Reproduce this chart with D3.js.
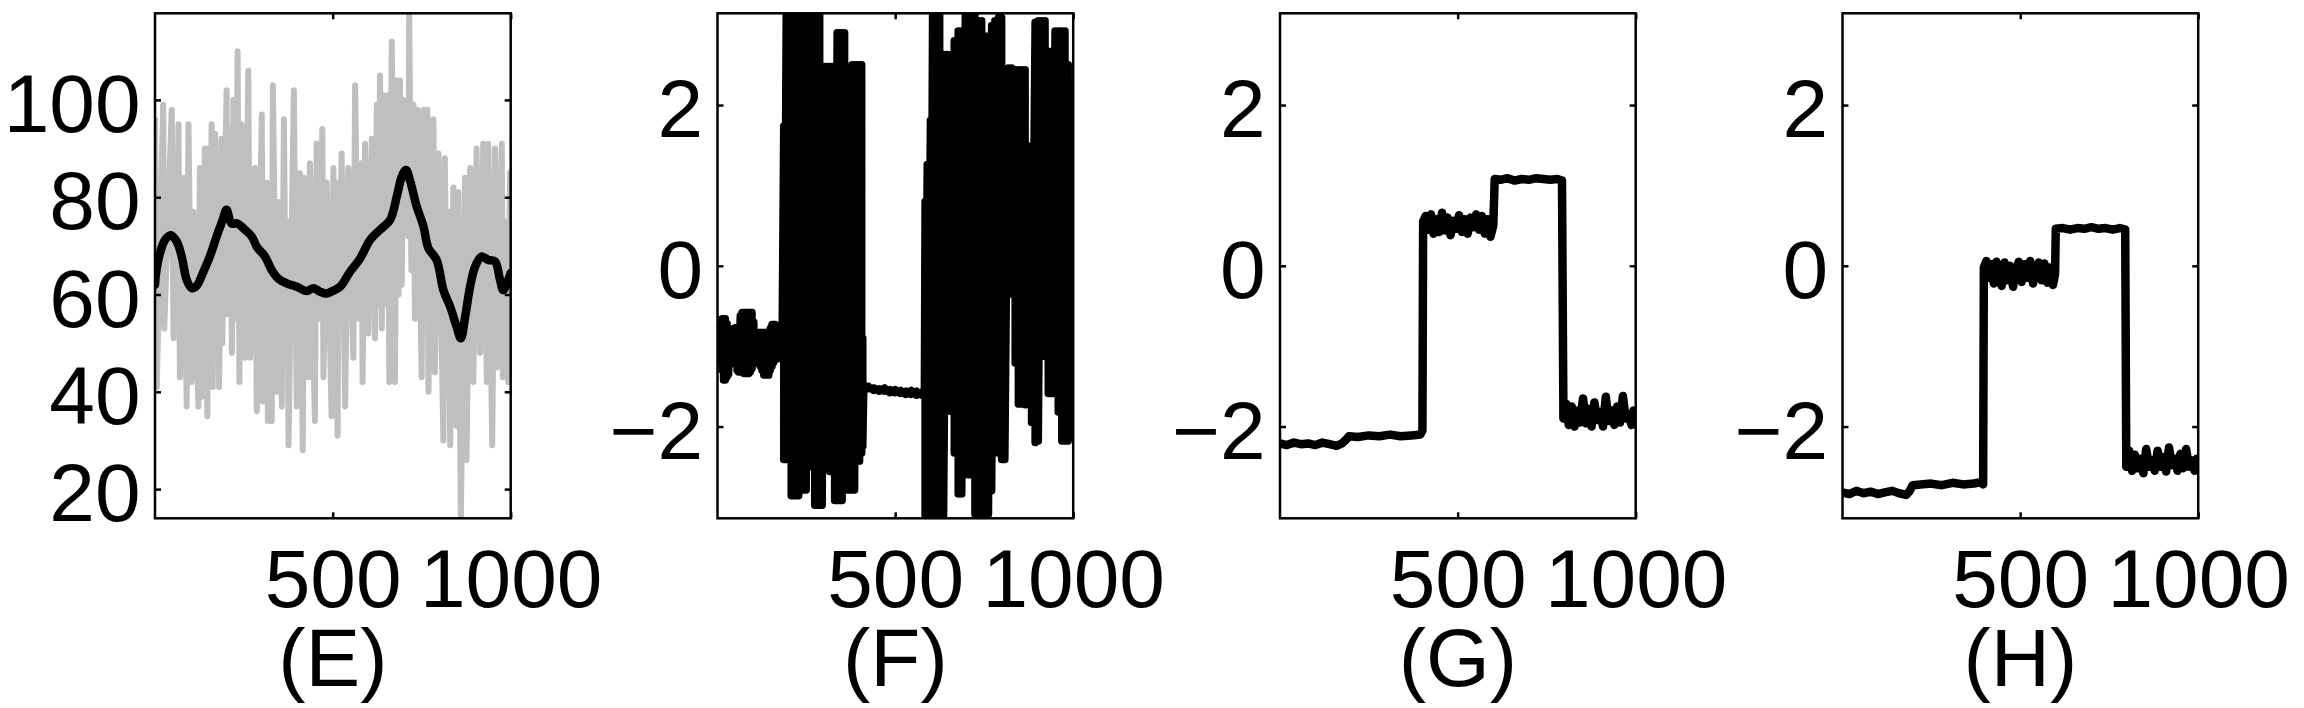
<!DOCTYPE html>
<html>
<head>
<meta charset="utf-8">
<script src="https://cdn.jsdelivr.net/npm/d3@7"></script>
<style>
body { margin: 0; background: #fff; }
text { font-family: "Liberation Sans", Arial, Helvetica, sans-serif; }
</style>
</head>
<body>
<script>
// four panels (E)-(H), 1000 samples each

const panelLabels = ['(E)', '(F)', '(G)', '(H)'];
const xDomain = [1, 1000];
const xTicks = [500, 1000];
const eYDomain = [14, 117.8];
const eYTicks = [20, 40, 60, 80, 100];
const phaseDomain = [-Math.PI, Math.PI];
const phaseTicks = [-2, 0, 2];

// (E) raw signal, grey: [sample, value] spike tips
const eGray = [
  [1,96],[6,41],[24,99],[27,53],[48,98],[53,51],[58,78],[62,62],[67,95],[71,43],
  [81,84],[90,37],[95,95],[104,42],[109,77],[123,37],[127,86],[132,39],[141,90],[148,35],
  [151,90],[155,55],[160,95],[163,41],[170,93],[175,55],[179,89],[181,41],[188,92],[190,50],
  [202,102],[204,56],[212,94],[217,48],[221,100],[227,55],[233,110],[238,42],[244,95],[254,47],
  [263,106],[268,47],[282,86],[287,36],[301,97],[304,38],[315,83],[318,34],[324,75],[329,34],
  [332,103],[343,40],[347,79],[357,37],[363,96],[368,55],[373,75],[376,29],[391,102],[399,37],
  [408,85],[416,28],[420,84],[432,43],[436,87],[450,34],[455,91],[463,55],[471,94],[474,43],
  [483,83],[497,35],[502,86],[514,31],[516,83],[520,55],[525,89],[535,37],[544,86],[558,47],
  [563,103],[572,55],[581,87],[584,42],[591,91],[600,52],[610,92],[619,51],[624,99],[628,58],
  [633,105],[638,53],[642,101],[649,58],[656,101],[659,42],[666,112],[675,42],[680,104],[685,60],
  [689,104],[694,62],[698,100],[712,72],[715,117.5],[721,65],[727,99],[731,55],[738,98],[750,43],
  [755,98],[760,55],[766,98],[769,40],[783,96],[787,44],[797,89],[811,30],[815,88],[820,55],
  [825,77],[830,29],[839,82],[848,33],[853,81],[860,14],[872,84],[876,26],[886,86],[895,42],
  [904,90],[914,48],[923,91],[933,42],[937,91],[948,29],[956,90],[961,45],[975,91],[978,43],
  [985,75],[993,42],[998,85],[1000,70]
];

// (E) smoothed signal, black
const eSmooth = [
  [1,62],[4,64.4],[15,68.5],[29,71.2],[45,72.2],[62,70.9],[76,67.8],[90,63],[104,61.3],[118,61.8],
  [137,64.7],[155,67.8],[174,71.9],[191,75.3],[202,77.4],[216,74.6],[232,74.6],[254,73.3],[273,71.9],[287,69.8],
  [310,67.8],[329,65],[347,63.3],[371,62.3],[399,61.6],[427,60.7],[446,61.3],[464,60.6],[483,60.2],[502,60.8],
  [521,61.6],[549,64.7],[577,67.4],[605,71.2],[633,73.3],[661,75.3],[680,80.1],[694,84.2],[706,85.6],[717,83.5],
  [736,78.1],[755,74],[769,69.5],[792,67.1],[811,60.9],[830,57.5],[848,53.4],[860,51],[872,55.4],[886,61.6],
  [900,65.7],[918,67.8],[937,67.1],[956,66.8],[970,63],[979,60.9],[993,63],[1000,64.4]
];

// (F) phase: [sample, upper, lower] envelope of the wrapped signal
const fBand = [
  [1,-0.85,-1.0],[4,-0.85,-1.0],[9,-0.75,-1.2],[14,-0.66,-1.3],[18,-0.66,-1.42],[23,-0.66,-1.42],
  [28,-0.72,-1.38],[32,-0.79,-1.35],[37,-0.79,-1.23],[42,-0.79,-1.21],[46,-0.78,-1.21],[51,-0.77,-1.21],
  [56,-0.77,-1.3],[60,-0.77,-1.32],[65,-0.62,-1.32],[70,-0.58,-1.32],[75,-0.58,-1.34],[79,-0.58,-1.34],
  [84,-0.58,-1.34],[89,-0.58,-1.34],[93,-0.58,-1.32],[98,-0.58,-1.28],[103,-0.7,-1.21],[107,-0.83,-1.21],
  [112,-0.83,-1.21],[117,-0.83,-1.21],[121,-0.83,-1.25],[126,-0.83,-1.3],[131,-0.83,-1.36],[135,-0.83,-1.36],
  [140,-0.83,-1.36],[145,-0.83,-1.36],[149,-0.78,-1.3],[154,-0.73,-1.25],[159,-0.73,-1.2],[163,-0.73,-1.17],
  [168,-0.75,-1.16],[173,-0.77,-1.15],[178,-0.77,-1.15],[182,-0.77,-1.15],
  [187,1.74,-2.41],[194,3.13,-2.41],[201,3.13,-2.41],[208,3.13,-2.86],[215,3.13,-2.86],[222,3.13,-2.86],
  [229,3.13,-2.86],[236,3.13,-2.79],[243,3.13,-2.79],[250,3.13,-2.79],[256,3.13,-2.01],[262,2.46,-2.5],
  [268,2.46,-2.5],[274,3.13,-2.98],[281,3.13,-2.98],[288,3.13,-2.98],[295,2.48,-2.98],[302,2.48,-2.5],
  [309,2.48,-2.14],[316,2.48,-2.56],[323,2.48,-2.56],[330,2.48,-2.92],[337,2.9,-2.92],[344,2.9,-2.92],
  [351,2.9,-2.92],[358,2.9,-2.31],[365,2.31,-2.79],[372,2.31,-2.79],[379,2.5,-2.79],[386,2.5,-2.79],
  [393,2.5,-2.43],[400,2.5,-2.43],[406,2.5,-2.33],[409,-0.9,-2.25],
  [412,-1.48,-1.52],[425,-1.5,-1.53],[440,-1.52,-1.55],[455,-1.53,-1.56],[470,-1.52,-1.56],[485,-1.54,-1.58],
  [500,-1.54,-1.58],[515,-1.55,-1.59],[530,-1.56,-1.6],[545,-1.55,-1.6],[560,-1.56,-1.61],[575,-1.57,-1.61],
  [582,-1.57,-1.6],
  [584,0.8,-3.11],[590,1.26,-3.11],[599,1.81,-3.11],[605,3.13,-3.11],[615,3.13,-3.11],[625,3.13,-3.11],
  [636,2.63,-3.11],[646,2.63,-1.81],[656,2.63,-1.81],[666,2.8,-2.33],[677,2.92,-2.84],[687,2.92,-2.84],
  [697,3.13,-2.6],[707,3.13,-2.6],[715,3.13,-2.6],[724,3.13,-3.09],[734,3.05,-3.09],[743,3.05,-3.09],
  [752,2.86,-3.09],[762,2.86,-3.09],[771,2.99,-2.8],[780,3.05,-2.33],[790,3.09,-2.33],[799,3.09,-2.41],
  [808,2.33,-2.41],[818,2.46,-0.35],[827,2.46,-0.35],[837,2.44,-1.21],[846,2.44,-1.72],[855,2.44,-1.72],
  [865,2.44,-1.73],[874,1.49,-1.22],[883,1.49,-1.95],[893,3.03,-2.2],[902,3.05,-2.18],[911,3.05,-1.11],
  [921,3.05,-1.13],[930,2.67,-1.59],[940,2.67,-1.59],[949,2.92,-1.06],[958,2.92,-1.82],[968,2.92,-2.18],
  [977,2.92,-2.18],[986,2.5,-2.18],[996,2.21,-1.93],[1000,2.21,-1.64]
];

// (G) estimated phase
const gTrace = [
  [1,-2.21],[20,-2.23],[40,-2.2],[60,-2.22],[80,-2.21],[100,-2.23],[120,-2.2],[140,-2.22],[160,-2.24],
  [175,-2.21],[185,-2.17],[195,-2.12],[220,-2.13],[250,-2.11],[280,-2.12],[310,-2.1],[340,-2.12],
  [370,-2.11],[395,-2.1],[401,-2.05],
  [403,0.55],[410,0.62],[418,0.45],[425,0.64],[432,0.4],[440,0.58],[448,0.42],[456,0.66],[464,0.44],
  [472,0.6],[480,0.38],[488,0.56],[496,0.46],[504,0.63],[512,0.42],[520,0.58],[528,0.4],[536,0.6],
  [544,0.48],[552,0.64],[560,0.45],[568,0.62],[576,0.4],[584,0.58],[592,0.36],[600,0.5],
  [604,1.08],[620,1.07],[640,1.09],[660,1.06],[680,1.08],[700,1.07],[720,1.09],[740,1.08],[760,1.07],
  [780,1.08],[793,1.06],
  [797,-1.9],[805,-1.72],[812,-1.98],[820,-1.75],[828,-2.0],[836,-1.8],[844,-1.95],[852,-1.65],[860,-1.96],
  [868,-1.78],[876,-2.0],[884,-1.7],[892,-1.92],[900,-1.82],[908,-2.0],[916,-1.63],[924,-1.93],[932,-1.8],
  [940,-1.98],[948,-1.75],[956,-1.95],[964,-1.62],[972,-1.9],[980,-1.85],[988,-1.98],[994,-1.8],[1000,-1.92]
];

// (H) estimated phase
const hTrace = [
  [1,-2.82],[20,-2.84],[40,-2.8],[60,-2.83],[80,-2.81],[100,-2.84],[120,-2.82],[140,-2.8],[160,-2.83],
  [180,-2.85],[190,-2.8],[198,-2.73],[220,-2.72],[250,-2.71],[280,-2.73],[310,-2.7],[340,-2.72],
  [370,-2.71],[390,-2.69],[396,-2.72],
  [398,-0.02],[405,0.06],[412,-0.15],[419,0.02],[426,-0.22],[433,0.05],[440,-0.12],[448,-0.25],[456,0.04],
  [464,-0.18],[472,0.0],[480,-0.26],[488,-0.05],[496,0.05],[504,-0.2],[512,0.02],[520,-0.15],[528,0.06],
  [536,-0.22],[544,-0.03],[552,0.04],[560,-0.18],[568,0.03],[576,-0.21],[584,-0.02],[592,-0.24],[598,-0.1],
  [600,0.46],[620,0.47],[640,0.45],[660,0.47],[680,0.46],[700,0.48],[720,0.46],[740,0.47],[760,0.45],
  [780,0.47],[795,0.45],
  [798,-2.5],[806,-2.3],[814,-2.55],[822,-2.35],[830,-2.52],[838,-2.4],[846,-2.58],[854,-2.28],[862,-2.5],
  [870,-2.42],[878,-2.55],[886,-2.3],[894,-2.5],[902,-2.38],[910,-2.56],[918,-2.26],[926,-2.48],[934,-2.4],
  [942,-2.55],[950,-2.34],[958,-2.52],[966,-2.28],[974,-2.5],[982,-2.42],[990,-2.55],[996,-2.4],[1000,-2.5]
];

// each envelope row becomes an upper then lower point of one trace
fTrace = fBand.flatMap(r => [[r[0], r[1]], [r[0], r[2]]]);

panels = [
  {label: panelLabels[0], yDomain: eYDomain, yTicks: eYTicks,
    series: [{pts: eGray, color: '#bfbfbf', w: 6}, {pts: eSmooth, color: '#000', w: 8.5, smooth: true}]},
  {label: panelLabels[1], yDomain: phaseDomain, yTicks: phaseTicks,
    series: [{pts: fTrace, color: '#000', w: 7.5}]},
  {label: panelLabels[2], yDomain: phaseDomain, yTicks: phaseTicks,
    series: [{pts: gTrace, color: '#000', w: 8.5}]},
  {label: panelLabels[3], yDomain: phaseDomain, yTicks: phaseTicks,
    series: [{pts: hTrace, color: '#000', w: 8.5}]}
];

width = 2304, height = 708;
svg = d3.select('body').append('svg')
  .attr('width', width)
  .attr('height', height)
  .style('background', '#fff');

left0 = 155, step = 562.5, boxW = 355.7;
boxTop = 13.3, boxBottom = 518.3;
fontSize = 82;

panels.forEach(function(p, i) {
  x0 = left0 + i * step;
  xScale = d3.scaleLinear().domain(xDomain).range([x0, x0 + boxW]);
  yScale = d3.scaleLinear().domain(p.yDomain).range([boxBottom, boxTop]);

  clipId = 'clip' + i;
  svg.append('clipPath').attr('id', clipId)
    .append('rect')
    .attr('x', x0).attr('y', boxTop)
    .attr('width', boxW).attr('height', boxBottom - boxTop);

  g = svg.append('g').attr('clip-path', 'url(#' + clipId + ')');
  p.series.forEach(function(s) {
    line = d3.line()
      .x(d => xScale(d[0]))
      .y(d => yScale(d[1]))
      .curve(s.smooth ? d3.curveCatmullRom : d3.curveLinear);
    g.append('path')
      .attr('d', line(s.pts))
      .attr('fill', 'none')
      .attr('stroke', s.color)
      .attr('stroke-width', s.w)
      .attr('stroke-linejoin', 'round')
      .attr('stroke-linecap', 'round');
  });

  // axes, ticks pointing inwards on all four sides
  axL = svg.append('g').attr('transform', 'translate(' + x0 + ',0)')
    .call(d3.axisLeft(yScale).tickValues(p.yTicks).tickSizeInner(-6).tickSizeOuter(0)
      .tickPadding(14.5).tickFormat(d3.format('d')));
  axL.selectAll('text').attr('dy', '0.387em');
  svg.append('g').attr('transform', 'translate(' + (x0 + boxW) + ',0)')
    .call(d3.axisRight(yScale).tickValues(p.yTicks).tickSizeInner(-6).tickSizeOuter(0).tickFormat(''));
  svg.append('g').attr('transform', 'translate(0,' + boxBottom + ')')
    .call(d3.axisBottom(xScale).tickValues(xTicks).tickSizeInner(-6).tickSizeOuter(0)
      .tickPadding(30).tickFormat(d3.format('d')));
  svg.append('g').attr('transform', 'translate(0,' + boxTop + ')')
    .call(d3.axisTop(xScale).tickValues(xTicks).tickSizeInner(-6).tickSizeOuter(0).tickFormat(''));

  svg.selectAll('.domain').remove();
  svg.selectAll('.tick line').attr('stroke', '#000').attr('stroke-width', 2.5);
  svg.selectAll('.tick text')
    .attr('fill', '#000')
    .style('font-size', fontSize + 'px')
    .style('font-family', '"Liberation Sans", Arial, Helvetica, sans-serif');

  svg.append('rect')
    .attr('x', x0).attr('y', boxTop)
    .attr('width', boxW).attr('height', boxBottom - boxTop)
    .attr('fill', 'none')
    .attr('stroke', '#000')
    .attr('stroke-width', 2.5);

  svg.append('text')
    .attr('x', x0 + boxW / 2)
    .attr('y', 686)
    .attr('text-anchor', 'middle')
    .style('font-size', fontSize + 'px')
    .text(p.label);
});
</script>
</body>
</html>
